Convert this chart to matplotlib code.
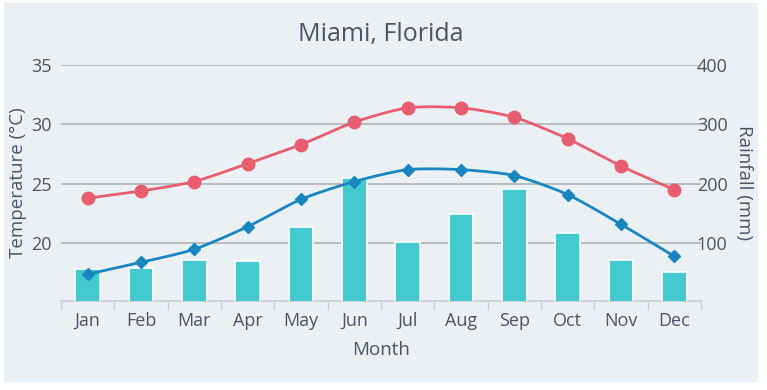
import numpy as np
import matplotlib
matplotlib.use("Agg")
import matplotlib.pyplot as plt
from matplotlib.patches import Rectangle

# Data
months = ["Jan", "Feb", "Mar", "Apr", "May", "Jun",
          "Jul", "Aug", "Sep", "Oct", "Nov", "Dec"]
temp_high = [23.8, 24.4, 25.2, 26.7, 28.3, 30.2, 31.4, 31.4, 30.6, 28.8, 26.5, 24.5]
temp_low = [17.4, 18.4, 19.5, 21.4, 23.7, 25.2, 26.2, 26.2, 25.7, 24.1, 21.6, 18.9]
rainfall = [56, 58, 72, 70, 128, 210, 102, 149, 192, 118, 72, 51]

temp_ticks = [20, 25, 30, 35]
rain_ticks = [100, 200, 300, 400]

BG = "#ebf0f5"
TEXT = "#4a5568"
GRID = "#b4b8bd"
RED = "#e85d6f"
BLUE = "#1a86c0"
TEAL = "#45c9d0"

plt.rcParams["font.family"] = ["Open Sans", "DejaVu Sans"]


def smooth(xs, ys, n=20, tension=0.35):
    # cardinal spline through the points (for a smooth line like the reference)
    xs = np.asarray(xs, float)
    ys = np.asarray(ys, float)
    px, py = [], []
    for i in range(len(xs) - 1):
        x0, y0 = (xs[i - 1], ys[i - 1]) if i > 0 else (xs[i], ys[i])
        x1, y1 = xs[i], ys[i]
        x2, y2 = xs[i + 1], ys[i + 1]
        x3, y3 = (xs[i + 2], ys[i + 2]) if i + 2 < len(xs) else (x2, y2)
        m1x, m1y = tension * (x2 - x0), tension * (y2 - y0)
        m2x, m2y = tension * (x3 - x1), tension * (y3 - y1)
        t = np.linspace(0, 1, n, endpoint=False)
        h00 = 2 * t**3 - 3 * t**2 + 1
        h10 = t**3 - 2 * t**2 + t
        h01 = -2 * t**3 + 3 * t**2
        h11 = t**3 - t**2
        px.extend(h00 * x1 + h10 * m1x + h01 * x2 + h11 * m2x)
        py.extend(h00 * y1 + h10 * m1y + h01 * y2 + h11 * m2y)
    px.append(xs[-1])
    py.append(ys[-1])
    return np.array(px), np.array(py)


fig = plt.figure(figsize=(7.67, 3.90), dpi=100)
fig.patch.set_facecolor("white")
fig.patches.append(Rectangle((4 / 767, 1 - 382 / 390), 754 / 767, 379 / 390,
                             transform=fig.transFigure, facecolor=BG,
                             edgecolor="none", zorder=-10))

ax_rain = fig.add_axes([61 / 767, 1 - 300.5 / 390, 640 / 767, 235.5 / 390])
ax_temp = ax_rain.twinx()

x = np.arange(len(months))

# rainfall bars
ax_rain.bar(x, rainfall, width=0.46, color=TEAL, edgecolor="white",
            linewidth=1.2, zorder=3)
ax_rain.set_ylim(3.7, 400)
ax_rain.set_yticks(rain_ticks)
ax_rain.yaxis.tick_right()
ax_rain.set_ylabel("Rainfall (mm)", rotation=270, fontsize=13.5, color=TEXT,
                   va="center", ha="center")
ax_rain.yaxis.set_label_coords(1 + 43 / 640, 0.5)
ax_rain.grid(axis="y", color=GRID, linewidth=1.3, zorder=1)
ax_rain.set_axisbelow(True)
ax_rain.set_facecolor("none")

# temperature lines
sx, sy = smooth(x, temp_high)
ax_temp.plot(sx, sy, color=RED, linewidth=2, zorder=4)
ax_temp.plot(x, temp_high, "o", color=RED, markersize=9, zorder=5)
sx, sy = smooth(x, temp_low)
ax_temp.plot(sx, sy, color=BLUE, linewidth=2, zorder=4)
ax_temp.plot(x, temp_low, "D", color=BLUE, markersize=6.5, zorder=5)
ax_temp.set_ylim(15.19, 35)
ax_temp.set_yticks(temp_ticks)
ax_temp.yaxis.tick_left()
ax_temp.set_ylabel("Temperature (°C)", fontsize=13.5, color=TEXT,
                   va="center", ha="center")
ax_temp.yaxis.set_label_coords(-43 / 640, 0.5)
ax_temp.patch.set_visible(False)

for a in (ax_rain, ax_temp):
    for s in a.spines.values():
        s.set_visible(False)
    a.tick_params(axis="y", length=0, labelsize=13, labelcolor=TEXT)
ax_temp.tick_params(axis="y", pad=7)
ax_rain.tick_params(axis="y", pad=-3)

ax_rain.set_xlim(-0.5, len(months) - 0.5)
ax_rain.set_xticks(x)
ax_rain.set_xticklabels(months)
ax_rain.set_xticks(np.arange(-0.5, len(months)), minor=True)
ax_rain.tick_params(axis="x", which="major", length=0, labelsize=13,
                    labelcolor=TEXT, pad=8)
ax_rain.tick_params(axis="x", which="minor", length=6, color="#c5cdd6", width=1)
ax_temp.tick_params(axis="x", which="both", length=0)
ax_rain.spines["bottom"].set_visible(True)
ax_rain.spines["bottom"].set_color("#c5cdd6")
ax_rain.spines["bottom"].set_linewidth(1.2)
ax_rain.set_xlabel("Month", fontsize=13.5, color=TEXT, labelpad=8)

fig.text(381 / 767, 1 - 34 / 390, "Miami, Florida", ha="center", va="center",
         fontsize=18, color=TEXT)

fig.savefig("out.png", dpi=100, facecolor="white")
